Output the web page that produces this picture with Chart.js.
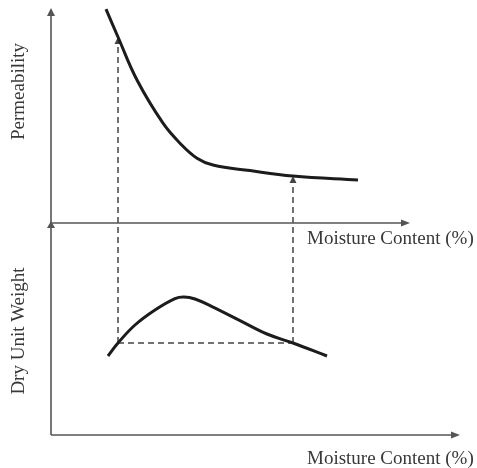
<!DOCTYPE html>
<html>
<head>
<meta charset="utf-8">
<script src="https://cdn.jsdelivr.net/npm/chart.js@4.4.1/dist/chart.umd.min.js"></script>
<style>
  html, body { margin: 0; padding: 0; background: #ffffff; }
  canvas { display: block; }
</style>
</head>
<body>
<canvas id="chart" width="477" height="468"></canvas>
<script>
// Permeability curve (upper panel)
const moistureTop  = [5.5, 6.7, 8.6, 11.2, 12.9, 14.6, 16.2, 19.9, 24.2, 30.7];
const permeability = [10.69, 9.3, 7.15, 4.99, 3.99, 3.24, 2.9, 2.62, 2.35, 2.15];

// Compaction curve (lower panel)
const moistureBottom = [5.7, 6.7, 8.4, 10.4, 12.4, 13.3, 14.4, 16.1, 18.9, 21.6, 24.2, 27.6];
const dryUnitWeight  = [3.95, 4.6, 5.5, 6.25, 6.82, 6.9, 6.8, 6.42, 5.72, 5.05, 4.6, 3.95];

// Equal dry unit weight on both sides of optimum, projected up to permeability
const projMoisture     = [6.7, 24.2];
const projPermeability = [9.3, 2.35];
const projDryWeight    = 4.6;

// Axis labels
const xTitle    = 'Moisture Content (%)';
const permTitle = 'Permeability';
const dryTitle  = 'Dry Unit Weight';

const pts = (xs, ys) => xs.map((x, i) => ({ x, y: ys[i] }));

const AXIS_COLOR = '#555555';
const CURVE_COLOR = '#1c1c1c';
const TEXT_COLOR = '#383838';
const FONT = '19px "Liberation Serif", "Times New Roman", serif';

function arrowUp(ctx, x, y, len, half) {
  ctx.beginPath();
  ctx.moveTo(x, y);
  ctx.lineTo(x - half, y + len);
  ctx.lineTo(x + half, y + len);
  ctx.closePath();
  ctx.fill();
}
function arrowRight(ctx, x, y, len, half) {
  ctx.beginPath();
  ctx.moveTo(x, y);
  ctx.lineTo(x - len, y - half);
  ctx.lineTo(x - len, y + half);
  ctx.closePath();
  ctx.fill();
}

// Axes with arrowheads, projection lines and titles
const schematicAxes = {
  id: 'schematicAxes',
  beforeDatasetsDraw(chart, args, opts) {
    const { ctx, scales } = chart;
    const xs = scales.x, yP = scales.yPerm, yD = scales.yDry;
    const x0 = xs.getPixelForValue(0);
    const yTopAxis = yP.getPixelForValue(0);
    const yBotAxis = yD.getPixelForValue(0);
    const yTop = yP.getPixelForValue(yP.max);

    ctx.save();
    // projection lines
    ctx.strokeStyle = '#444444';
    ctx.fillStyle = '#444444';
    ctx.lineWidth = 1.5;
    ctx.setLineDash([6, 4]);
    const yLevel = yD.getPixelForValue(projDryWeight);
    ctx.beginPath();
    ctx.moveTo(xs.getPixelForValue(projMoisture[0]), yLevel);
    ctx.lineTo(xs.getPixelForValue(projMoisture[1]), yLevel);
    ctx.stroke();
    projMoisture.forEach((m, i) => {
      const px = xs.getPixelForValue(m);
      const tip = yP.getPixelForValue(projPermeability[i]);
      ctx.beginPath();
      ctx.moveTo(px, yLevel);
      ctx.lineTo(px, tip + 6);
      ctx.stroke();
    });
    ctx.setLineDash([]);
    projMoisture.forEach((m, i) => {
      arrowUp(ctx, xs.getPixelForValue(m), yP.getPixelForValue(projPermeability[i]), 7, 3.5);
    });

    // axes
    ctx.strokeStyle = AXIS_COLOR;
    ctx.fillStyle = AXIS_COLOR;
    ctx.lineWidth = 1.6;
    ctx.beginPath();
    ctx.moveTo(x0, yBotAxis);
    ctx.lineTo(x0, yTop + 6);
    ctx.moveTo(x0, yTopAxis);
    ctx.lineTo(xs.getPixelForValue(opts.topAxisEnd) - 7, yTopAxis);
    ctx.moveTo(x0, yBotAxis);
    ctx.lineTo(xs.getPixelForValue(opts.bottomAxisEnd) - 7, yBotAxis);
    ctx.stroke();
    arrowUp(ctx, x0, yTop, 8, 4);
    arrowUp(ctx, x0, yTopAxis - 2, 7, 4);
    arrowRight(ctx, xs.getPixelForValue(opts.topAxisEnd), yTopAxis, 9, 3.5);
    arrowRight(ctx, xs.getPixelForValue(opts.bottomAxisEnd), yBotAxis, 9, 3.5);

    // titles
    ctx.fillStyle = TEXT_COLOR;
    ctx.font = FONT;
    ctx.textAlign = 'left';
    ctx.textBaseline = 'alphabetic';
    ctx.fillText(xTitle, 307, yTopAxis + 20.5);
    ctx.fillText(xTitle, 307, yBotAxis + 28.5);

    ctx.textAlign = 'center';
    const rot = (text, cx, cy) => {
      ctx.save();
      ctx.translate(cx, cy);
      ctx.rotate(-Math.PI / 2);
      ctx.fillText(text, 0, 0);
      ctx.restore();
    };
    rot(permTitle, 24, 91.5);
    rot(dryTitle, 24, 331);
    ctx.restore();
  }
};

new Chart(document.getElementById('chart'), {
  type: 'line',
  data: {
    datasets: [
      {
        label: permTitle,
        data: pts(moistureTop, permeability),
        yAxisID: 'yPerm',
        borderColor: CURVE_COLOR,
        borderWidth: 3,
        pointRadius: 0,
        tension: 0.4,
        fill: false
      },
      {
        label: dryTitle,
        data: pts(moistureBottom, dryUnitWeight),
        yAxisID: 'yDry',
        borderColor: CURVE_COLOR,
        borderWidth: 3,
        pointRadius: 0,
        tension: 0.4,
        fill: false
      }
    ]
  },
  options: {
    responsive: false,
    animation: false,
    devicePixelRatio: 1,
    layout: { padding: { left: 51, right: 16, top: 8, bottom: 33 } },
    scales: {
      x: { type: 'linear', min: 0, max: 41, display: false },
      yPerm: { type: 'linear', min: -10.6, max: 10.75, display: false },
      yDry: { type: 'linear', min: 0, max: 21.35, display: false }
    },
    plugins: {
      legend: { display: false },
      tooltip: { enabled: false },
      schematicAxes: { topAxisEnd: 35.9, bottomAxisEnd: 40.9 }
    }
  },
  plugins: [schematicAxes]
});
</script>
</body>
</html>
